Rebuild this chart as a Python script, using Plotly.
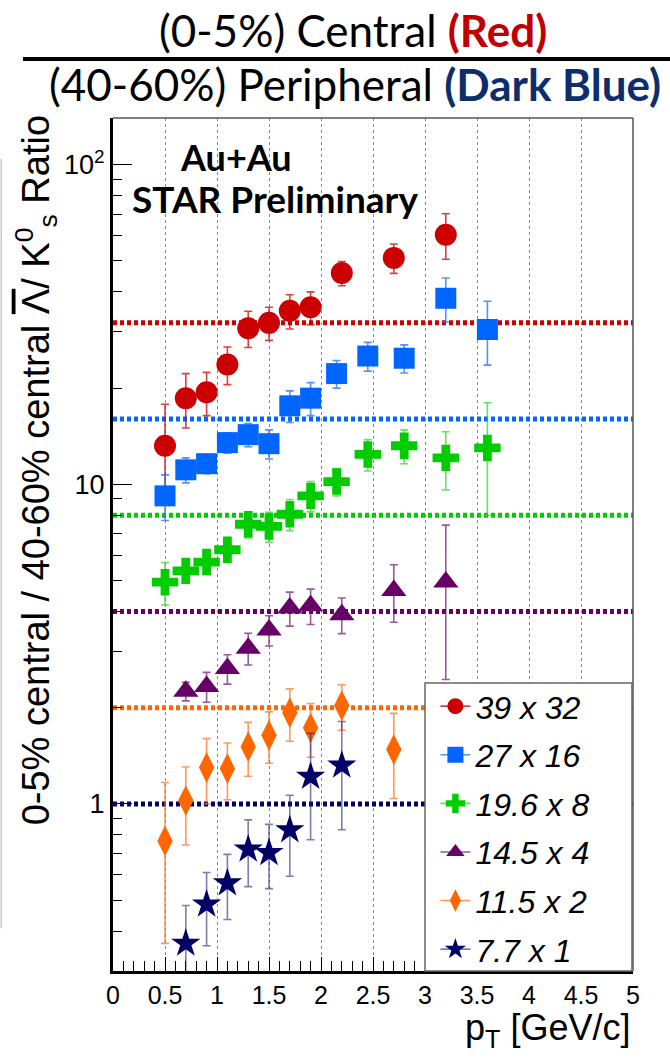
import numpy as np
import plotly.graph_objects as go

# ---------------- data ----------------
labels = ["39 x 32", "27 x 16", "19.6 x 8", "14.5 x 4", "11.5 x 2", "7.7 x 1"]
scales = [32, 16, 8, 4, 2, 1]

pt_39 = [0.5, 0.7, 0.9, 1.1, 1.3, 1.5, 1.7, 1.9, 2.2, 2.7, 3.2]
ratio_39 = [13.2, 18.6, 19.4, 23.7, 30.8, 32.0, 34.9, 35.8, 45.8, 51.1, 60.4]
err_39 = [4.6, 3.6, 3.0, 3.2, 4.0, 3.8, 4.3, 4.2, 4.0, 5.4, 9.8]

pt_27 = [0.5, 0.7, 0.9, 1.1, 1.3, 1.5, 1.7, 1.9, 2.15, 2.45, 2.8, 3.2, 3.6]
ratio_27 = [9.2, 11.1, 11.6, 13.5, 14.3, 13.4, 17.6, 18.6, 22.2, 25.2, 24.8, 38.2, 30.5]
err_27 = [1.5, 1.0, 0.8, 1.0, 1.2, 1.4, 2.0, 2.2, 2.2, 2.6, 2.5, 6.0, 6.9]

pt_19 = [0.5, 0.7, 0.9, 1.1, 1.3, 1.5, 1.7, 1.9, 2.15, 2.45, 2.8, 3.2, 3.6]
ratio_19 = [4.94, 5.36, 5.71, 6.24, 7.50, 7.38, 8.06, 9.20, 10.2, 12.4, 13.2, 12.1, 13.0]
err_19 = [0.75, 0.3, 0.35, 0.4, 0.7, 0.8, 0.9, 1.0, 1.0, 1.4, 1.6, 2.5, 5.0]

pt_14 = [0.7, 0.9, 1.1, 1.3, 1.5, 1.7, 1.9, 2.2, 2.7, 3.2]
ratio_14 = [2.25, 2.33, 2.65, 3.07, 3.50, 4.10, 4.17, 3.91, 4.65, 4.95]
err_14 = [0.15, 0.25, 0.28, 0.35, 0.38, 0.5, 0.53, 0.5, 0.95, 2.5]

pt_11 = [0.5, 0.7, 0.9, 1.1, 1.3, 1.5, 1.7, 1.9, 2.2, 2.7]
ratio_11 = [0.766, 1.024, 1.30, 1.29, 1.51, 1.64, 1.93, 1.73, 2.03, 1.48]
err_11 = [0.4, 0.28, 0.3, 0.26, 0.29, 0.3, 0.36, 0.33, 0.33, 0.44]

pt_7 = [0.7, 0.9, 1.1, 1.3, 1.5, 1.7, 1.9, 2.2]
ratio_7 = [0.366, 0.485, 0.565, 0.721, 0.703, 0.829, 1.217, 1.32]
err_7 = [0.115, 0.125, 0.13, 0.17, 0.16, 0.235, 0.445, 0.49]

x_tick_vals = [0, 0.5, 1, 1.5, 2, 2.5, 3, 3.5, 4, 4.5, 5]
x_tick_text = ["0", "0.5", "1", "1.5", "2", "2.5", "3", "3.5", "4", "4.5", "5"]
y_tick_vals = [1, 10, 100]
y_tick_text = ["1", "10", "10<sup>2</sup>"]

# ---------------- styles ----------------
colors = ["#CC0000", "#0066FF", "#00CC00", "#660066", "#FF6600", "#000066"]
err_colors = ["rgba(204,0,0,0.75)", "rgba(30,110,255,0.75)", "rgba(40,210,40,0.7)",
              "rgba(110,20,110,0.7)", "rgba(255,110,30,0.7)", "rgba(40,40,120,0.6)"]
symbols = ["circle", "square", "cross", "triangle-up", "diamond-tall", "star"]
sizes = [22, 21, 22, 22, 22, 22]

series = [(pt_39, ratio_39, err_39), (pt_27, ratio_27, err_27), (pt_19, ratio_19, err_19),
          (pt_14, ratio_14, err_14), (pt_11, ratio_11, err_11), (pt_7, ratio_7, err_7)]

X_MIN, X_MAX = 0, 5
Y_MIN, Y_MAX = 0.30, 140

fig = go.Figure()

# scale reference lines
for sc, col in zip(scales, colors):
    fig.add_trace(go.Scatter(x=[X_MIN, X_MAX], y=[sc, sc], mode="lines",
                             line=dict(color=col, width=5, dash="4px,3px"),
                             showlegend=False, hoverinfo="skip"))

# data
for (xs, ys, es), col, ecol, sym, sz in zip(series, colors, err_colors, symbols, sizes):
    fig.add_trace(go.Scatter(x=xs, y=ys, mode="markers",
                             marker=dict(symbol=sym, size=sz, color=col, line=dict(width=0)),
                             error_y=dict(type="data", array=es, color=ecol, thickness=1.6, width=4),
                             showlegend=False))

# legend entries
for i, (lab, col, ecol, sym) in enumerate(zip(labels, colors, err_colors, symbols)):
    fig.add_trace(go.Scatter(x=[None], y=[None], mode="lines+markers", name="<i>%s</i>" % lab,
                             legendgroup="g%d" % i,
                             marker=dict(symbol=sym, size=22, color=col, line=dict(width=0)),
                             line=dict(color=ecol, width=1.6)))

# minor ticks for log axis
minor_y = [v * m for v in [0.1, 1, 10] for m in range(2, 10) if Y_MIN <= v * m <= Y_MAX]

fig.update_layout(
    width=670, height=1060,
    margin=dict(l=113, r=37, t=118, b=89),
    paper_bgcolor="white", plot_bgcolor="white",
    font=dict(family="Liberation Sans, Arial, sans-serif", color="black"),
    showlegend=True,
    legend=dict(x=0.62, xanchor="left", y=0.3425, yanchor="top",
                bgcolor="rgba(0,0,0,0)", borderwidth=0,
                font=dict(size=32, family="Liberation Sans, Arial, sans-serif"),
                tracegroupgap=4, itemsizing="trace"),
    xaxis=dict(range=[X_MIN, X_MAX], tickvals=x_tick_vals, ticktext=x_tick_text,
               ticks="inside", ticklen=14, tickwidth=1, tickcolor="black",
               showgrid=True, gridcolor="#888888", griddash="dot", gridwidth=1,
               showline=True, linecolor="black", linewidth=2.5, zeroline=False,
               tickfont=dict(size=25),
               minor=dict(dtick=0.1, tick0=0, ticks="inside", ticklen=10,
                          tickcolor="black", showgrid=False)),
    yaxis=dict(type="log", range=[np.log10(Y_MIN), np.log10(Y_MAX)],
               tickvals=y_tick_vals, ticktext=y_tick_text,
               ticks="inside", ticklen=19, tickwidth=1, tickcolor="black",
               showgrid=False, showline=True, linecolor="black", linewidth=3,
               zeroline=False, tickfont=dict(size=27),
               minor=dict(tickvals=minor_y, ticks="inside", ticklen=9,
                          tickcolor="black", showgrid=False)),
)

shapes = [
    # top / right frame
    dict(type="line", xref="paper", yref="paper", x0=0, x1=1, y0=1, y1=1,
         line=dict(color="#555555", width=1.5)),
    dict(type="line", xref="paper", yref="paper", x0=1, x1=1, y0=0, y1=1,
         line=dict(color="#555555", width=1.5)),
    # legend box
    dict(type="rect", xref="paper", yref="paper", x0=0.6, x1=0.998, y0=0, y1=0.3376,
         fillcolor="white", line=dict(color="#666666", width=1.5), layer="above"),
    # title fraction bar
    dict(type="line", xref="paper", yref="paper", x0=-0.173, x1=1.075, y0=1.0692, y1=1.0692,
         line=dict(color="black", width=4)),
    # faint slide artifact line at far left
    dict(type="line", xref="paper", yref="paper", x0=-0.215, x1=-0.215, y0=0.05, y1=0.952,
         line=dict(color="#aaaaaa", width=1)),
]
fig.update_layout(shapes=shapes)

title_font = "Lato, Open Sans, sans-serif"
annotations = [
    dict(text="(0-5%) Central <b><span style='color:#C00000'>(Red)</span></b>",
         x=0.4606, y=1.1035, xref="paper", yref="paper", showarrow=False,
         xanchor="center", yanchor="middle", font=dict(size=44, family=title_font)),
    dict(text="(40-60%) Peripheral <b><span style='color:#0D2D6B'>(Dark Blue)</span></b>",
         x=0.4654, y=1.0400, xref="paper", yref="paper", showarrow=False,
         xanchor="center", yanchor="middle", font=dict(size=44, family=title_font)),
    dict(text="<b>Au+Au</b>", x=0.2365, y=0.9543, xref="paper", yref="paper",
         showarrow=False, xanchor="center", yanchor="middle",
         font=dict(size=36, family=title_font)),
    dict(text="<b>STAR Preliminary</b>", x=0.3115, y=0.9062, xref="paper", yref="paper",
         showarrow=False, xanchor="center", yanchor="middle",
         font=dict(size=37, family=title_font)),
    dict(text="p<sub>T</sub> [GeV/c]", x=0.998, y=-0.069, xref="paper", yref="paper",
         showarrow=False, xanchor="right", yanchor="middle",
         font=dict(size=36)),
    dict(text="0-5% central / 40-60% central "
              "<span style='text-decoration:overline'>\u039b</span>/ "
              "K<sup>0</sup><sub>s</sub> Ratio",
         x=-0.148, y=0.587, xref="paper", yref="paper", textangle=-90,
         showarrow=False, xanchor="center", yanchor="middle", font=dict(size=38)),
]
fig.update_layout(annotations=annotations)

fig.write_html("out.html")
